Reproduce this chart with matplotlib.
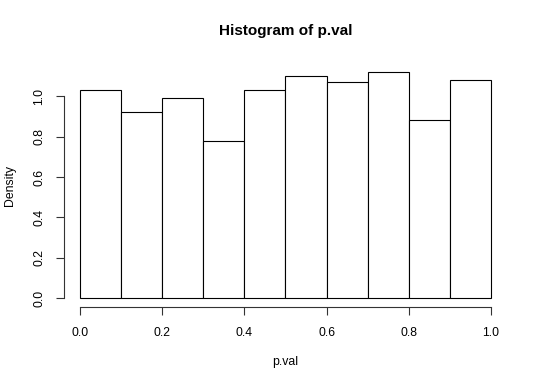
import matplotlib
matplotlib.use("Agg")
import matplotlib.pyplot as plt

# histogram of p.val, 10 bins of width 0.1 (density scale)
bin_left = [0.0, 0.1, 0.2, 0.3, 0.4, 0.5, 0.6, 0.7, 0.8, 0.9]
bin_width = 0.1
density = [1.03, 0.92, 0.99, 0.78, 1.03, 1.10, 1.07, 1.12, 0.88, 1.08]
x_ticks = [0.0, 0.2, 0.4, 0.6, 0.8, 1.0]
y_ticks = [0.0, 0.2, 0.4, 0.6, 0.8, 1.0]

plt.rcParams['font.family'] = ['Liberation Sans', 'DejaVu Sans']

fig = plt.figure(figsize=(5.4, 3.86), dpi=100)
ax = fig.add_axes([0.1176, 0.2039, 0.8220, 0.6331])

ax.bar(bin_left, density, width=bin_width, align='edge',
       facecolor='white', edgecolor='black', linewidth=0.8)

# R-style axis range: data range extended by 4%
ax.set_xlim(-0.04, 1.04)
ymax = max(density)
ax.set_ylim(-0.04 * ymax, 1.04 * ymax)

ax.set_xticks(x_ticks)
ax.set_xticklabels([f"{t:.1f}" for t in x_ticks])
ax.set_yticks(y_ticks)
ax.set_yticklabels([f"{t:.1f}" for t in y_ticks], rotation=90, va='center')

for side in ('top', 'right'):
    ax.spines[side].set_visible(False)
ax.spines['bottom'].set_bounds(x_ticks[0], x_ticks[-1])
ax.spines['left'].set_bounds(y_ticks[0], y_ticks[-1])
for side in ('bottom', 'left'):
    ax.spines[side].set_linewidth(0.8)
    ax.spines[side].set_color('#333333')

ax.tick_params(axis='both', length=6, width=0.8, color='#333333',
               labelsize=8.8, direction='out')
ax.tick_params(axis='x', pad=8.5)
ax.tick_params(axis='y', pad=7)

ax.set_xlabel('p.val', fontsize=8.8)
ax.xaxis.set_label_coords(0.5, -0.2226)
ax.xaxis.label.set_va('center')
ax.set_ylabel('Density', fontsize=8.8)
ax.yaxis.set_label_coords(-0.1205, 0.5)
ax.yaxis.label.set_va('center')

ax.set_title('Histogram of p.val', fontsize=11, fontweight='bold',
             y=1.1305, va='center', pad=0)

fig.savefig('out.png', dpi=100)
